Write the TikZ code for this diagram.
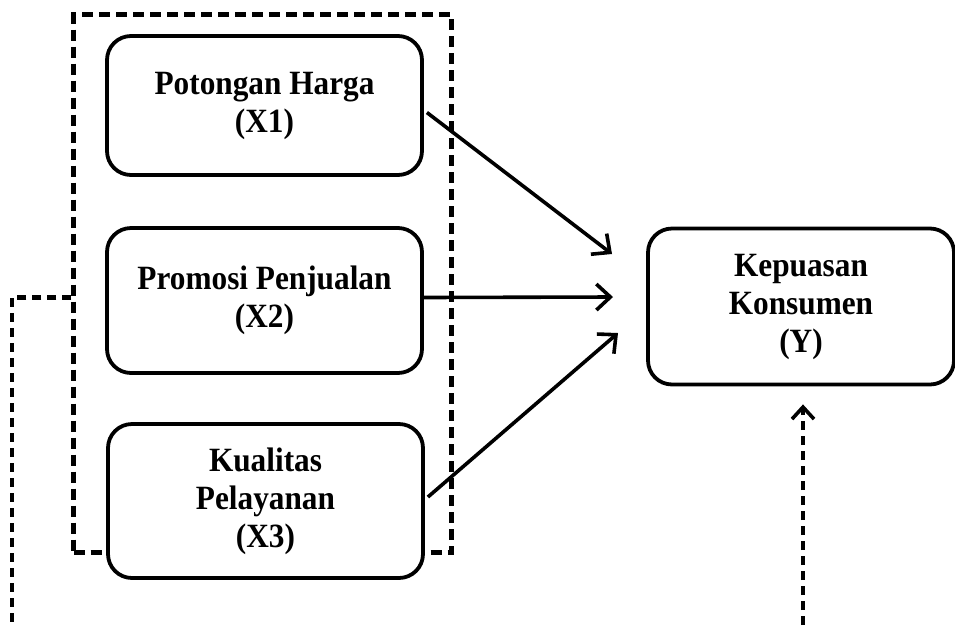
\documentclass[tikz,border=0pt]{standalone}
\usepackage{fontspec}
\setmainfont{Liberation Serif}[FakeStretch=0.92]
\usetikzlibrary{arrows.meta,calc}
\begin{document}
\begin{tikzpicture}[x=1pt,y=-1pt,
  varbox/.style={draw,fill=white,line width=3.8pt,rounded corners=24pt,align=center,
    font=\fontsize{34}{38}\selectfont\bfseries,inner sep=0pt},
  grpbox/.style={draw,line width=4.2pt,dash pattern=on 11pt off 6pt,inner sep=0pt},
  link/.style={line width=3.6pt,-{Straight Barb[length=14pt,width=26pt,line width=3.6pt]}},
  dlink/.style={line width=4.2pt,dash pattern=on 9pt off 6pt},
]
\useasboundingbox (0,0) rectangle (955,625);
\node[grpbox,minimum width=378pt,minimum height=538pt] (grp) at (262.5,283.5) {};
\node[varbox,minimum width=315pt,minimum height=139pt] (x1) at (264.5,105.5) {Potongan Harga\\(X1)};
\node[varbox,minimum width=315pt,minimum height=145pt] (x2) at (264.5,300.5) {Promosi Penjualan\\(X2)};
\node[varbox,minimum width=315pt,minimum height=154pt] (x3) at (265.5,501) {Kualitas\\Pelayanan\\(X3)};
\node[varbox,minimum width=306pt,minimum height=156pt] (y) at (801,306.5) {Kepuasan\\Konsumen\\(Y)};
\coordinate (t1) at (612,254);
\coordinate (t2) at (613,297);
\coordinate (t3) at (618,333);
\coordinate (lb) at (12,625);
\coordinate (rb) at (803,625);
\draw[link] ($(x1.east)+(3,7)$) -- (t1);
\draw[link] ($(x2.east)+(0,-3)$) -- (t2);
\draw[link] ($(x3.east)+(3,-4)$) -- (t3);
\draw[dlink] ($(grp.west)+(0,14)$) -| (lb);
\draw[dlink,-{Straight Barb[length=12pt,width=22pt,line width=3.6pt]}] (rb) -- ($(y.south)+(2,18)$);
\end{tikzpicture}
\end{document}
